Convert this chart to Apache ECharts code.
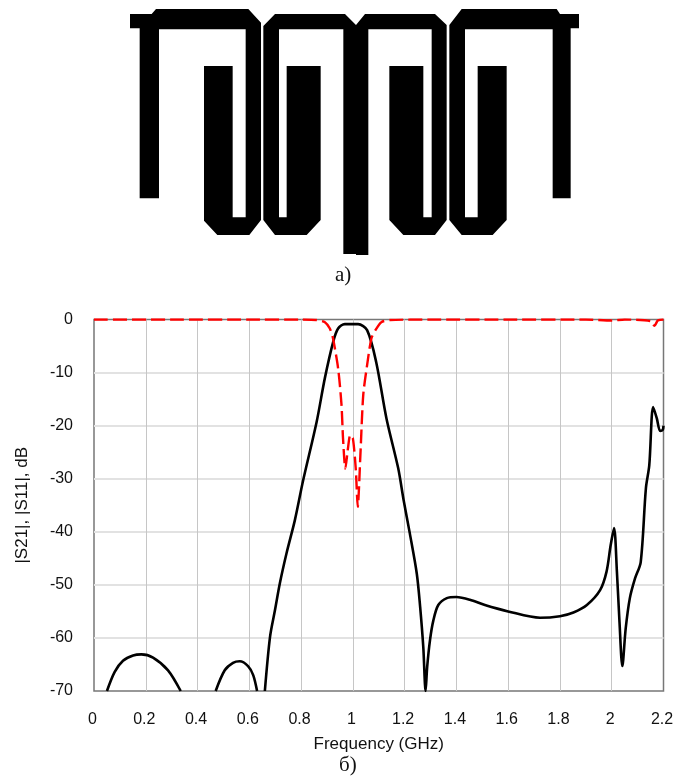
<!DOCTYPE html>
<html>
<head>
<meta charset="utf-8">
<script src="https://cdn.jsdelivr.net/npm/echarts@6/dist/echarts.min.js"></script>
<style>html,body{margin:0;padding:0;background:#fff}#c{width:678px;height:778px}</style>
</head>
<body>
<div id="c"></div>
<script>
// |S21| (dB) against frequency (GHz); null = curve leaves the plotted range
const s21Freq = [0.05,0.08,0.112,0.151,0.183,0.228,0.286,0.335,0.336,0.47,0.505,0.537,0.563,0.595,0.615,0.63,0.631,0.66,0.68,0.699,0.718,0.744,0.776,0.808,0.86,0.892,0.924,0.943,0.969,1.02,1.055,1.09,1.13,1.175,1.196,1.22,1.247,1.26,1.272,1.281,1.287,1.298,1.311,1.33,1.363,1.4,1.452,1.51,1.6,1.723,1.8,1.852,1.904,1.955,1.98,1.996,2.009,2.02,2.03,2.041,2.054,2.07,2.09,2.112,2.132,2.145,2.16,2.174,2.187,2.197,2.2];
const s21Db = [-70,-66.4,-64.3,-63.3,-63.1,-63.7,-66.1,-70,null,-70,-66.1,-64.7,-64.4,-65.3,-67,-70,null,-70,-59.8,-54.8,-49.7,-44,-37.8,-30.3,-19.3,-11,-4.2,-1.7,-0.87,-0.87,-2,-8,-18.7,-28,-34,-40.3,-47.9,-54.2,-61.7,-70,-65.5,-60.4,-56.7,-53.8,-52.5,-52.3,-52.8,-53.8,-55,-56.2,-55.9,-55.2,-53.8,-51,-47.5,-42.5,-39.3,-47.5,-57,-65.3,-58.2,-52.5,-48.8,-45.7,-31.8,-27.5,-16.5,-18.6,-21,-20.8,-20];
// |S11| (dB)
const s11Freq = [0,0.3,0.6,0.8,0.86,0.892,0.911,0.923,0.943,0.956,0.962,0.971,0.981,0.99,1.0,1.011,1.019,1.029,1.04,1.055,1.072,1.091,1.11,1.143,1.3,1.6,1.9,2.0,2.05,2.15,2.165,2.178,2.2];
const s11Db = [0,0,0,0,-0.1,-0.5,-1.7,-3.5,-9.2,-16,-22.4,-28.1,-24.3,-21.8,-22.4,-28,-35.3,-25.6,-14.3,-8.6,-3.5,-1.7,-0.5,-0.1,0,0,0,-0.2,0,-0.3,-1.2,-0.2,0];
const xTicks = ['0','0.2','0.4','0.6','0.8','1','1.2','1.4','1.6','1.8','2','2.2'];
const yTicks = [0,-10,-20,-30,-40,-50,-60,-70];
const pairs = (a, b) => a.map((v, i) => [v, b[i]]);

// Microstrip layout sketch: outlines of the three conductors (crop units)
const conductorOutlines = [
  [[30,42],[95,42],[108,27],[385,27],[423,68],[423,660],[388,705],[292,705],[252,662],[252,198],[338,198],[338,652],[377,652],[377,88],[117,88],[117,595],[59,595],[59,85],[30,85]],
  [[430,78],[465,42],[675,42],[708,75],[735,42],[945,42],[980,75],[980,660],[945,705],[850,705],[808,660],[808,198],[910,198],[910,652],[935,652],[935,88],[745,88],[745,765],[708,765],[708,762],[670,762],[670,88],[477,88],[477,652],[500,652],[500,198],[602,198],[602,660],[560,705],[465,705],[430,660]],
  [[988,75],[1025,27],[1310,27],[1320,42],[1377,42],[1377,85],[1352,85],[1352,595],[1298,595],[1298,88],[1035,88],[1035,652],[1073,652],[1073,198],[1160,198],[1160,660],[1118,705],[1025,705],[988,660]]
];

const chart = echarts.init(document.getElementById('c'), null, {renderer:'canvas'});
const sans = '"Liberation Sans", Arial, sans-serif';
const serif = '"Liberation Serif", "Times New Roman", serif';
chart.setOption({
  animation:false,
  backgroundColor:'#fff',
  grid:{left:94,top:319.5,width:569.5,height:371.5,show:true,borderColor:'#777',borderWidth:1.5,backgroundColor:'transparent'},
  xAxis:{
    type:'value',min:0,max:2.2,interval:0.2,
    name:'Frequency (GHz)',nameLocation:'middle',nameGap:45,
    nameTextStyle:{fontFamily:sans,fontSize:17,color:'#111'},
    axisLine:{show:false},axisTick:{show:false},
    axisLabel:{margin:21,padding:[0,3,0,0],fontFamily:sans,fontSize:16,color:'#111',
      formatter:(v)=>xTicks[Math.round(v/0.2)],hideOverlap:false,showMinLabel:true,showMaxLabel:true},
    splitLine:{show:true,showMinLine:false,showMaxLine:false,lineStyle:{color:'#c6c6c6',width:1}}
  },
  yAxis:{
    type:'value',min:-70,max:0,interval:10,
    name:'|S21|, |S11|, dB',nameLocation:'middle',nameGap:63,
    nameTextStyle:{fontFamily:sans,fontSize:17,color:'#111'},
    axisLine:{show:false},axisTick:{show:false},
    axisLabel:{margin:21,padding:[4,0,0,0],fontFamily:sans,fontSize:16,color:'#111',
      formatter:(v)=>yTicks.includes(v)?String(v):''},
    splitLine:{show:true,showMinLine:false,showMaxLine:false,lineStyle:{color:'#e2e2e2',width:2}}
  },
  series:[
    {name:'|S21|',type:'line',data:pairs(s21Freq,s21Db),showSymbol:false,smooth:0.3,connectNulls:false,clip:true,
      lineStyle:{color:'#000',width:2.6},z:3},
    {name:'|S11|',type:'line',data:pairs(s11Freq,s11Db),showSymbol:false,smooth:0.25,clip:true,
      lineStyle:{color:'#f00',width:2.4,type:[14,5]},z:4}
  ],
  graphic:[
    ...conductorOutlines.map(o=>({type:'polygon',silent:true,
      shape:{points:o.map(p=>[120+p[0]/3,p[1]/3])},style:{fill:'#000'}})),
    {type:'text',left:335,top:265,style:{text:'а)',font:'21px '+serif,fill:'#111'}},
    {type:'text',left:339,top:755,style:{text:'б)',font:'21px '+serif,fill:'#111'}}
  ]
});
</script>
</body>
</html>
